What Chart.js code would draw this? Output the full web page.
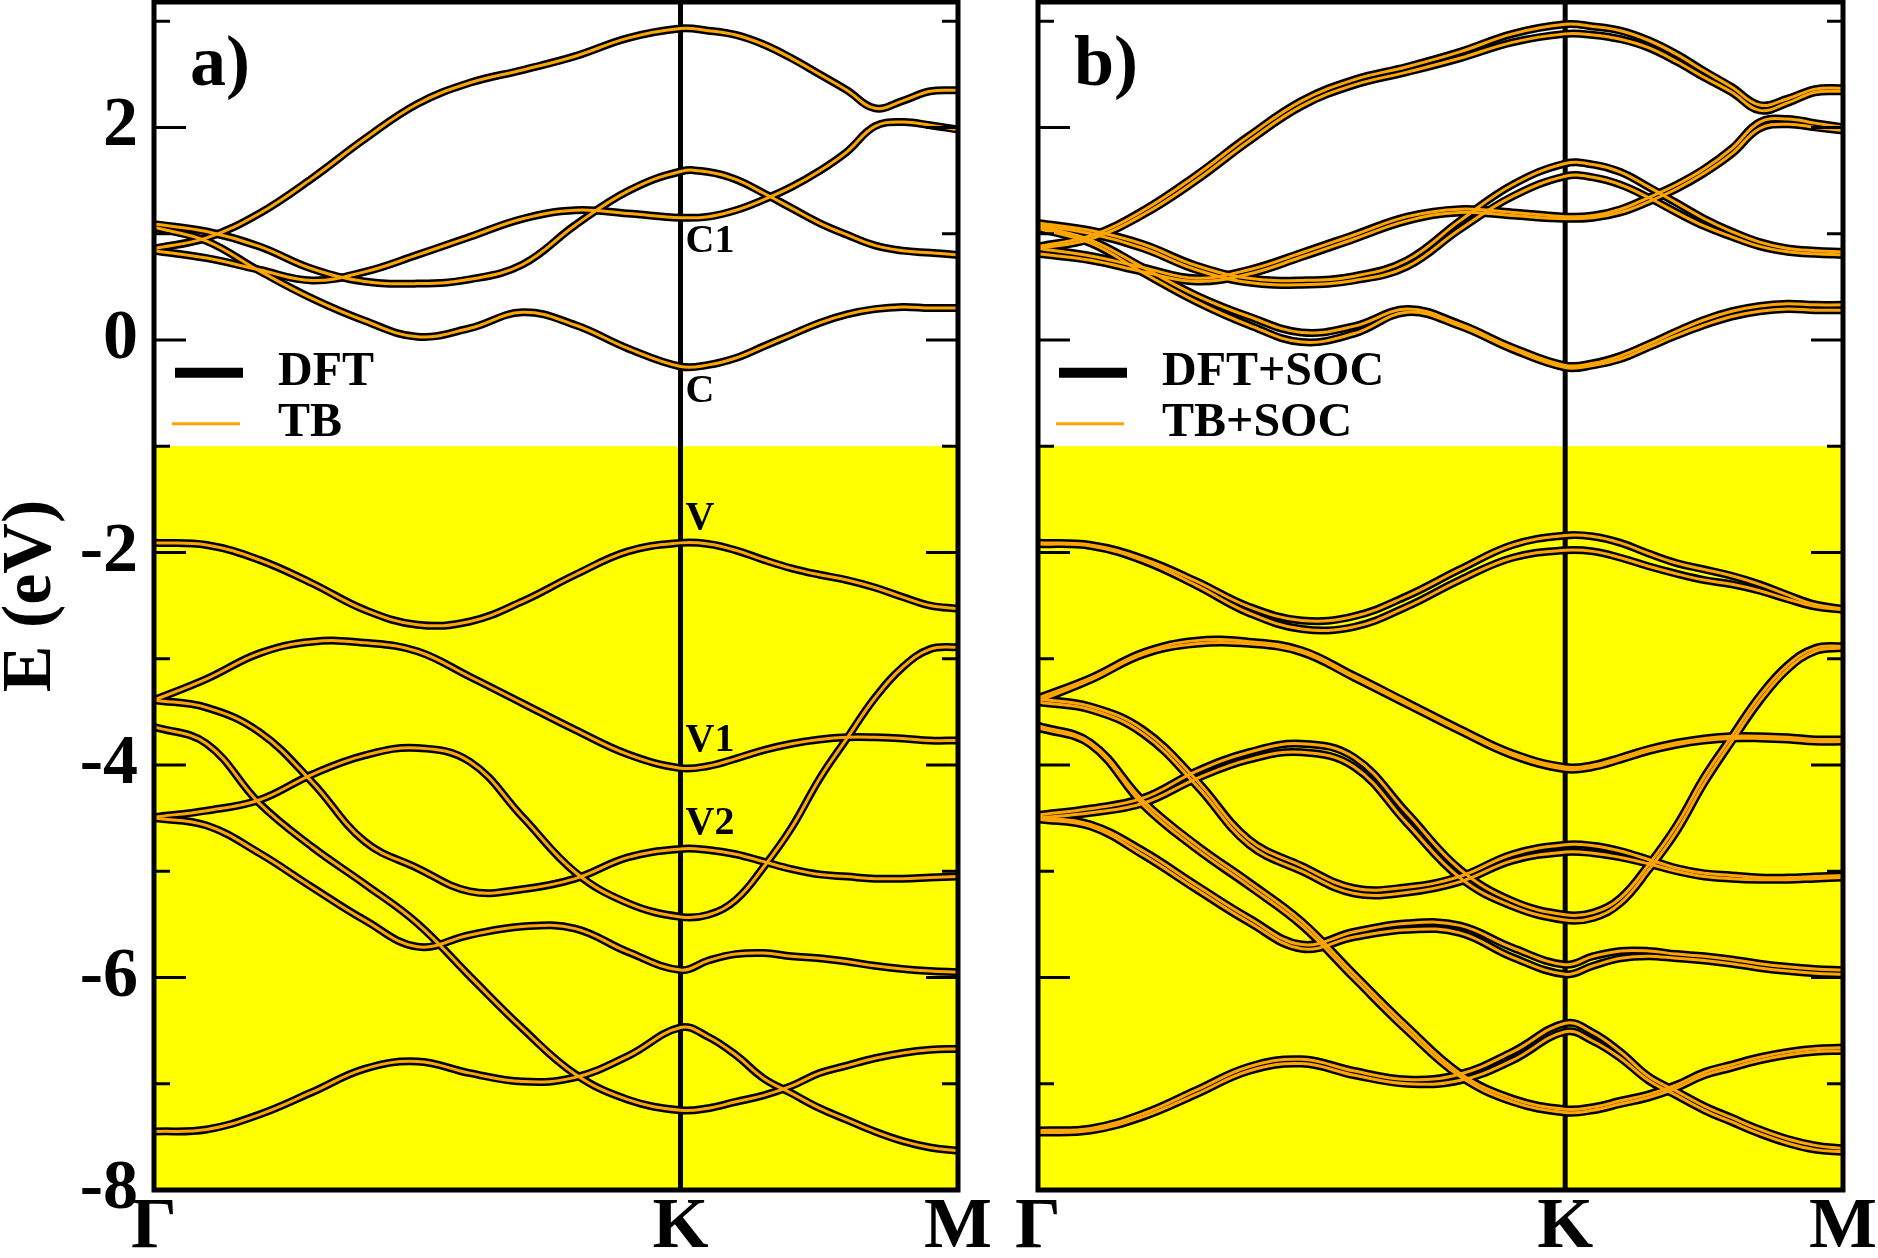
<!DOCTYPE html>
<html>
<head>
<meta charset="utf-8">
<title>Band structure: DFT vs TB</title>
<script src="https://cdn.jsdelivr.net/npm/chart.js@4.4.1/dist/chart.umd.min.js"></script>
<style>
  html, body { margin: 0; padding: 0; background: #fff; overflow: hidden; }
  #wrap { position: relative; width: 1878px; height: 1258px; }
  canvas { position: absolute; top: 0; }
  #panelA { left: 0; }
  #panelB { left: 1000px; }
</style>
</head>
<body>
<div id="wrap">
  <canvas id="panelA" width="1000" height="1258"></canvas>
  <canvas id="panelB" width="900" height="1258"></canvas>
</div>
<script>
'use strict';

// k-path, Γ = 0, K = 1, M = 1.527 (one grid for every band)
const kx = [0, 0.1, 0.2, 0.3, 0.4, 0.5, 0.6, 0.7, 0.8, 0.9, 1, 1.053, 1.105, 1.158, 1.211, 1.264, 1.316, 1.369, 1.422, 1.474, 1.527];
const kTicks = [0, 1, 1.527];
const kNames = ['Γ', 'K', 'M'];
const eTicks = [-8, -7, -6, -5, -4, -3, -2, -1, 0, 1, 2, 3];

// a) without SOC (DFT and TB lie on top of each other)
const aT  = [0.86, 0.96, 1.19, 1.52, 1.89, 2.22, 2.42, 2.54, 2.67, 2.84, 2.93, 2.91, 2.87, 2.78, 2.65, 2.50, 2.35, 2.18, 2.25, 2.34, 2.35];
const aA  = [1.09, 1.02, 0.88, 0.67, 0.55, 0.53, 0.57, 0.71, 1.08, 1.40, 1.585, 1.58, 1.51, 1.38, 1.24, 1.10, 0.99, 0.89, 0.84, 0.82, 0.80];
const aB  = [0.84, 0.77, 0.66, 0.56, 0.64, 0.80, 0.97, 1.14, 1.22, 1.19, 1.15, 1.16, 1.22, 1.32, 1.44, 1.59, 1.77, 2.01, 2.05, 2.02, 1.98];
const aC  = [1.06, 0.93, 0.65, 0.39, 0.18, 0.03, 0.11, 0.26, 0.14, -0.08, -0.25, -0.235, -0.17, -0.06, 0.05, 0.16, 0.24, 0.29, 0.31, 0.30, 0.30];
const aV  = [-1.91, -1.93, -2.07, -2.29, -2.54, -2.68, -2.65, -2.46, -2.21, -1.99, -1.91, -1.92, -1.98, -2.07, -2.15, -2.21, -2.26, -2.33, -2.42, -2.50, -2.53];
const aV1 = [-3.39, -3.19, -2.95, -2.84, -2.85, -2.93, -3.17, -3.42, -3.67, -3.90, -4.03, -4.01, -3.94, -3.86, -3.80, -3.76, -3.74, -3.74, -3.75, -3.77, -3.77];
const aV2 = [-3.39, -3.46, -3.69, -4.16, -4.72, -4.97, -5.19, -5.17, -5.07, -4.87, -4.79, -4.80, -4.84, -4.91, -4.98, -5.03, -5.05, -5.07, -5.07, -5.06, -5.05];
const aV3 = [-4.49, -4.43, -4.33, -4.09, -3.91, -3.84, -3.97, -4.49, -5.01, -5.30, -5.43, -5.41, -5.27, -4.96, -4.59, -4.13, -3.75, -3.37, -3.08, -2.91, -2.89];
const aV4 = [-3.64, -3.80, -4.36, -4.77, -5.12, -5.49, -5.99, -6.48, -6.91, -7.15, -7.25, -7.23, -7.17, -7.11, -7.02, -6.90, -6.83, -6.76, -6.71, -6.68, -6.67];
const aV5 = [-4.50, -4.57, -4.83, -5.15, -5.46, -5.71, -5.60, -5.52, -5.54, -5.76, -5.93, -5.84, -5.78, -5.77, -5.80, -5.82, -5.85, -5.89, -5.92, -5.94, -5.95];
const aV6 = [-7.45, -7.43, -7.29, -7.08, -6.86, -6.79, -6.90, -6.98, -6.94, -6.74, -6.47, -6.56, -6.73, -6.95, -7.09, -7.23, -7.34, -7.45, -7.54, -7.60, -7.63];

// b) with SOC, every band split in two
const bT_hi  = [0.88, 0.98, 1.22, 1.55, 1.92, 2.25, 2.45, 2.57, 2.71, 2.88, 2.97, 2.95, 2.91, 2.82, 2.69, 2.53, 2.38, 2.21, 2.27, 2.36, 2.37];
const bT_lo  = [0.86, 0.95, 1.18, 1.50, 1.87, 2.20, 2.40, 2.52, 2.65, 2.80, 2.88, 2.87, 2.83, 2.75, 2.62, 2.47, 2.33, 2.16, 2.23, 2.33, 2.34];
const bA_hi  = [1.10, 1.03, 0.90, 0.70, 0.58, 0.56, 0.60, 0.75, 1.12, 1.46, 1.66, 1.65, 1.58, 1.44, 1.29, 1.14, 1.02, 0.92, 0.86, 0.84, 0.83];
const bA_lo  = [1.08, 1.00, 0.86, 0.66, 0.54, 0.52, 0.56, 0.69, 1.04, 1.35, 1.54, 1.53, 1.46, 1.34, 1.20, 1.07, 0.97, 0.88, 0.83, 0.81, 0.80];
const bB_hi  = [0.86, 0.79, 0.68, 0.58, 0.66, 0.82, 0.99, 1.16, 1.23, 1.20, 1.16, 1.17, 1.23, 1.34, 1.46, 1.61, 1.80, 2.05, 2.08, 2.04, 2.00];
const bB_lo  = [0.81, 0.75, 0.64, 0.55, 0.62, 0.78, 0.95, 1.12, 1.20, 1.17, 1.14, 1.15, 1.20, 1.30, 1.42, 1.57, 1.75, 1.99, 2.03, 2.00, 1.97];
const bC_hi  = [1.07, 0.94, 0.68, 0.42, 0.22, 0.07, 0.13, 0.29, 0.15, -0.07, -0.24, -0.22, -0.15, -0.04, 0.08, 0.19, 0.27, 0.32, 0.34, 0.33, 0.33];
const bC_lo  = [1.05, 0.91, 0.63, 0.36, 0.14, -0.02, 0.06, 0.26, 0.13, -0.09, -0.26, -0.24, -0.18, -0.07, 0.04, 0.14, 0.22, 0.27, 0.29, 0.28, 0.28];
const bV_hi  = [-1.91, -1.93, -2.06, -2.27, -2.51, -2.64, -2.60, -2.41, -2.16, -1.93, -1.84, -1.85, -1.91, -2.01, -2.10, -2.16, -2.22, -2.30, -2.40, -2.49, -2.53];
const bV_lo  = [-1.92, -1.94, -2.08, -2.31, -2.57, -2.72, -2.70, -2.51, -2.26, -2.05, -1.98, -1.99, -2.05, -2.13, -2.20, -2.26, -2.30, -2.36, -2.44, -2.51, -2.54];
const bV1_hi = [-3.37, -3.18, -2.94, -2.83, -2.84, -2.92, -3.16, -3.41, -3.66, -3.89, -4.02, -4.00, -3.93, -3.85, -3.79, -3.75, -3.73, -3.73, -3.74, -3.76, -3.76];
const bV1_lo = [-3.40, -3.20, -2.96, -2.86, -2.86, -2.94, -3.18, -3.43, -3.68, -3.91, -4.04, -4.02, -3.95, -3.87, -3.81, -3.77, -3.75, -3.75, -3.76, -3.78, -3.78];
const bV2_hi = [-3.38, -3.45, -3.67, -4.14, -4.70, -4.95, -5.16, -5.15, -5.05, -4.84, -4.75, -4.76, -4.81, -4.89, -4.97, -5.02, -5.04, -5.06, -5.06, -5.05, -5.04];
const bV2_lo = [-3.41, -3.48, -3.71, -4.19, -4.75, -5.00, -5.21, -5.20, -5.10, -4.90, -4.82, -4.83, -4.87, -4.93, -5.00, -5.05, -5.07, -5.08, -5.08, -5.07, -5.06];
const bV3_hi = [-4.47, -4.41, -4.31, -4.06, -3.88, -3.80, -3.93, -4.45, -4.98, -5.28, -5.41, -5.39, -5.25, -4.94, -4.57, -4.11, -3.73, -3.35, -3.06, -2.90, -2.88];
const bV3_lo = [-4.50, -4.45, -4.36, -4.13, -3.95, -3.88, -4.02, -4.55, -5.06, -5.33, -5.46, -5.44, -5.30, -4.99, -4.63, -4.17, -3.78, -3.40, -3.10, -2.93, -2.90];
const bV4_hi = [-3.63, -3.79, -4.34, -4.75, -5.10, -5.47, -5.97, -6.46, -6.90, -7.14, -7.24, -7.22, -7.16, -7.10, -7.01, -6.89, -6.82, -6.75, -6.70, -6.67, -6.66];
const bV4_lo = [-3.65, -3.81, -4.38, -4.79, -5.14, -5.51, -6.01, -6.50, -6.93, -7.17, -7.27, -7.25, -7.19, -7.13, -7.04, -6.92, -6.85, -6.78, -6.73, -6.70, -6.69];
const bV5_hi = [-4.49, -4.56, -4.81, -5.13, -5.44, -5.69, -5.57, -5.49, -5.51, -5.72, -5.88, -5.80, -5.75, -5.75, -5.78, -5.80, -5.83, -5.87, -5.90, -5.92, -5.93];
const bV5_lo = [-4.51, -4.58, -4.85, -5.17, -5.48, -5.73, -5.62, -5.55, -5.58, -5.81, -5.97, -5.89, -5.82, -5.80, -5.82, -5.84, -5.87, -5.91, -5.94, -5.96, -5.97];
const bV6_hi = [-7.44, -7.42, -7.28, -7.06, -6.84, -6.77, -6.88, -6.96, -6.91, -6.70, -6.43, -6.52, -6.70, -6.93, -7.07, -7.21, -7.32, -7.43, -7.52, -7.58, -7.61];
const bV6_lo = [-7.46, -7.44, -7.31, -7.10, -6.88, -6.81, -6.92, -7.00, -6.97, -6.78, -6.51, -6.60, -6.76, -6.97, -7.11, -7.25, -7.36, -7.47, -7.56, -7.62, -7.64];

// state labels written next to the K line in a)
const kLabels = ['C1', 'C', 'V', 'V1', 'V2'];
const kLabelE = [0.92, -0.49, -1.68, -3.77, -4.55];

const gapTop = -1; // yellow region starts here

const bandsA = [aT, aA, aB, aC, aV, aV1, aV2, aV3, aV4, aV5, aV6];
const bandsB = [bT_hi, bT_lo, bA_hi, bA_lo, bB_hi, bB_lo, bC_hi, bC_lo,
                bV_hi, bV_lo, bV1_hi, bV1_lo, bV2_hi, bV2_lo, bV3_hi, bV3_lo,
                bV4_hi, bV4_lo, bV5_hi, bV5_lo, bV6_hi, bV6_lo];

const SERIF = '"Liberation Serif", "Times New Roman", serif';
const ORANGE = '#ffa500';

const toPoints = band => band.map((e, i) => ({x: kx[i], y: e}));

// black (DFT) underneath, orange (TB) on top
const bandSets = (bands, names) => {
    const sets = [];
    bands.forEach(band => {
        sets.push({label: names[0], data: toPoints(band), borderColor: '#000', borderWidth: 8, order: 1});
        sets.push({label: names[1], data: toPoints(band), borderColor: ORANGE, borderWidth: 3, order: 0});
    });
    return sets;
};

const decor = {
    id: 'decor',
    beforeDatasetsDraw(chart, args, opts) {
        const {ctx, chartArea: a, scales: {x, y}} = chart;
        ctx.save();
        const yg = y.getPixelForValue(gapTop);
        ctx.fillStyle = '#ffff00';
        ctx.fillRect(a.left, yg, a.right - a.left, a.bottom - yg);
        const xk = x.getPixelForValue(kTicks[1]);
        ctx.strokeStyle = '#000';
        ctx.lineWidth = 5;
        ctx.beginPath();
        ctx.moveTo(xk, a.top);
        ctx.lineTo(xk, a.bottom);
        ctx.stroke();
        ctx.restore();
    },
    afterDatasetsDraw(chart, args, opts) {
        const {ctx, chartArea: a, scales: {x, y}} = chart;
        ctx.save();
        ctx.strokeStyle = '#000';
        ctx.fillStyle = '#000';

        // frame + inward ticks on both sides
        ctx.lineWidth = 5;
        ctx.strokeRect(a.left, a.top, a.right - a.left, a.bottom - a.top);
        ctx.lineWidth = 3;
        eTicks.forEach(v => {
            const py = y.getPixelForValue(v);
            const len = v % 2 === 0 ? 32 : 16;
            ctx.beginPath();
            ctx.moveTo(a.left, py);
            ctx.lineTo(a.left + len, py);
            ctx.moveTo(a.right, py);
            ctx.lineTo(a.right - len, py);
            ctx.stroke();
        });

        // legend
        const ly1 = y.getPixelForValue(-0.31);
        const ly2 = y.getPixelForValue(-0.79);
        ctx.lineWidth = 10;
        ctx.beginPath();
        ctx.moveTo(a.left + 21, ly1);
        ctx.lineTo(a.left + 89, ly1);
        ctx.stroke();
        ctx.strokeStyle = ORANGE;
        ctx.lineWidth = 3;
        ctx.beginPath();
        ctx.moveTo(a.left + 18, ly2);
        ctx.lineTo(a.left + 86, ly2);
        ctx.stroke();
        ctx.font = `bold 48px ${SERIF}`;
        ctx.textAlign = 'left';
        ctx.textBaseline = 'middle';
        ctx.fillText(opts.legend[0], a.left + 124, ly1);
        ctx.fillText(opts.legend[1], a.left + 124, ly2);

        // panel tag
        ctx.font = `bold 72px ${SERIF}`;
        ctx.textBaseline = 'alphabetic';
        ctx.fillText(opts.tag, a.left + 36, a.top + 83);

        // labels at K
        if (opts.kMarks) {
            const xk = x.getPixelForValue(kTicks[1]);
            ctx.font = `bold 40px ${SERIF}`;
            ctx.textBaseline = 'middle';
            kLabels.forEach((t, i) => ctx.fillText(t, xk + 5, y.getPixelForValue(kLabelE[i])));
        }

        // axis title
        if (opts.title) {
            ctx.translate(32, (a.top + a.bottom) / 2);
            ctx.rotate(-Math.PI / 2);
            ctx.font = `bold 70px ${SERIF}`;
            ctx.textAlign = 'center';
            ctx.fillText(opts.title, 0, 0);
        }
        ctx.restore();
    }
};

const tickFont = size => ({family: SERIF, size: size, weight: 'bold', lineHeight: 1});

const makePanel = (id, bands, cfg) => new Chart(document.getElementById(id), {
    type: 'line',
    data: {datasets: bandSets(bands, cfg.legend)},
    plugins: [decor],
    options: {
        responsive: false,
        animation: false,
        devicePixelRatio: 1,
        layout: {padding: {top: 2, right: cfg.right, bottom: 0, left: 0}},
        elements: {
            point: {radius: 0},
            line: {tension: 0.4, fill: false}
        },
        plugins: {
            legend: {display: false},
            tooltip: {enabled: false},
            decor: cfg
        },
        scales: {
            x: {
                type: 'linear',
                min: kTicks[0],
                max: kTicks[2],
                grid: {display: false, drawTicks: false},
                border: {display: false},
                afterBuildTicks: s => { s.ticks = kTicks.map(v => ({value: v})); },
                afterFit: s => { s.height = 68; },
                ticks: {
                    autoSkip: false, maxRotation: 0, minRotation: 0, padding: 2, color: '#000',
                    font: tickFont(72),
                    callback: v => kNames[kTicks.indexOf(v)]
                }
            },
            y: {
                min: -8,
                max: 3.18,
                grid: {display: false, drawTicks: true, tickLength: 14},
                border: {display: false},
                afterBuildTicks: s => { s.ticks = eTicks.map(v => ({value: v})); },
                afterFit: s => { s.width = cfg.left; },
                ticks: {
                    display: cfg.yLabels, padding: 2, color: '#000',
                    font: tickFont(70),
                    callback: v => v % 2 === 0 ? String(v) : []
                }
            }
        }
    }
});

makePanel('panelA', bandsA, {
    left: 154, right: 42, yLabels: true,
    legend: ['DFT', 'TB'], tag: 'a)', kMarks: true, title: 'E (eV)'
});
makePanel('panelB', bandsB, {
    left: 38, right: 57, yLabels: false,
    legend: ['DFT+SOC', 'TB+SOC'], tag: 'b)', kMarks: false, title: null
});
</script>
</body>
</html>
